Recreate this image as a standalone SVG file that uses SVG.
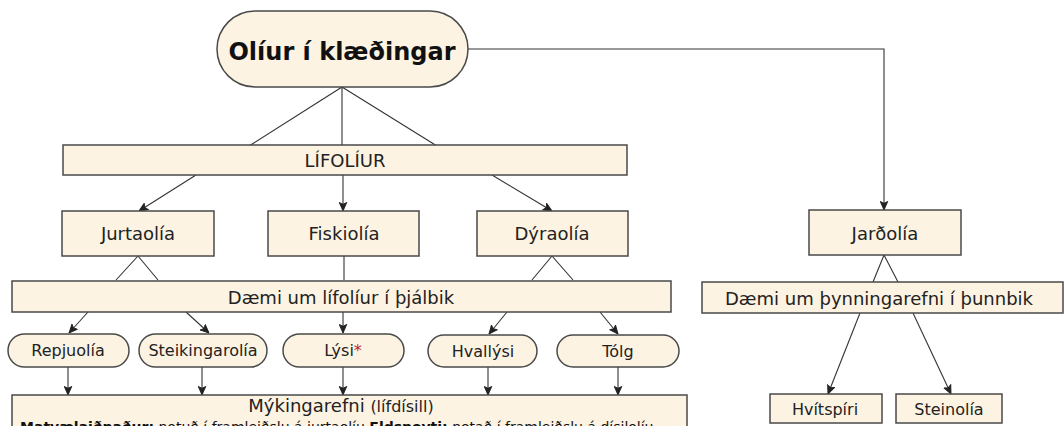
<svg xmlns="http://www.w3.org/2000/svg" width="1064" height="426" viewBox="0 0 1064 426">
  <style>
    .box { fill: #fdf3e2; stroke: #4a4a4a; stroke-width: 1.5; }
    .lbl { font-family: "DejaVu Sans", Verdana, sans-serif; font-size: 18px; fill: #222; text-anchor: middle; }
    .sm { font-size: 16px; }
    .title { font-family: "DejaVu Sans", Verdana, sans-serif; font-size: 24px; font-weight: bold; fill: #111; text-anchor: middle; }
    .wire { fill: none; stroke: #333; stroke-width: 1.1; }
    .arr { marker-end: url(#tip); }
    .note { font-family: "DejaVu Sans", Verdana, sans-serif; font-size: 14px; fill: #111; }
  </style>
  <defs>
    <marker id="tip" viewBox="0 0 10 10" refX="10" refY="5" markerWidth="9" markerHeight="9" markerUnits="userSpaceOnUse" orient="auto">
      <path d="M0.5,0.8 L10,5 L0.5,9.2 L2.5,5 z" fill="#222" stroke="#222" stroke-width="1"/>
    </marker>
  </defs>
  <rect width="1064" height="426" fill="#ffffff"/>

  <!-- connectors -->
  <g id="connectors">
    <!-- root to LÍFOLÍUR -->
    <path class="wire" d="M342,87 L249,146 M342,87 L342,146 M342,87 L437,146"/>
    <!-- root to Jarðolía -->
    <path class="wire arr" d="M468,49 L884,49 L884,210"/>
    <!-- LÍFOLÍUR to the three kinds -->
    <line class="wire arr" x1="196" y1="175" x2="139" y2="211"/>
    <line class="wire arr" x1="343" y1="175" x2="343" y2="211"/>
    <line class="wire arr" x1="492" y1="175" x2="552" y2="211"/>
    <!-- kinds to examples bar -->
    <path class="wire" d="M116,280 L138,256 L158,280"/>
    <line class="wire" x1="344" y1="256" x2="344" y2="280"/>
    <path class="wire" d="M532,280 L552,256 L573,280"/>
    <!-- examples bar to the oils -->
    <line class="wire arr" x1="88" y1="312" x2="69" y2="333"/>
    <line class="wire arr" x1="186" y1="312" x2="209" y2="333"/>
    <line class="wire arr" x1="343" y1="312" x2="343" y2="333"/>
    <line class="wire arr" x1="507" y1="312" x2="489" y2="334"/>
    <line class="wire arr" x1="600" y1="312" x2="618" y2="334"/>
    <!-- oils to Mýkingarefni -->
    <line class="wire arr" x1="68" y1="367" x2="68" y2="395"/>
    <line class="wire arr" x1="202" y1="367" x2="202" y2="395"/>
    <line class="wire arr" x1="343" y1="367" x2="343" y2="395"/>
    <line class="wire arr" x1="488" y1="367" x2="488" y2="395"/>
    <line class="wire arr" x1="618" y1="367" x2="618" y2="395"/>
    <!-- Jarðolía branch -->
    <path class="wire" d="M873,282 L884,255 L898,282"/>
    <line class="wire arr" x1="860" y1="313" x2="828" y2="394"/>
    <line class="wire arr" x1="913" y1="313" x2="951" y2="394"/>
  </g>

  <g id="root">
    <rect class="box" x="217" y="11" width="251" height="76" rx="38" ry="38"/>
    <text class="title" x="342" y="60">Olíur í klæðingar</text>
  </g>

  <g id="lifoliur">
    <rect class="box" x="63" y="145" width="564" height="30"/>
    <text class="lbl" x="345" y="167">LÍFOLÍUR</text>
  </g>

  <g id="jurtaolia">
    <rect class="box" x="62" y="211" width="152" height="45"/>
    <text class="lbl" x="138" y="240">Jurtaolía</text>
  </g>
  <g id="fiskiolia">
    <rect class="box" x="268" y="211" width="151" height="45"/>
    <text class="lbl" x="344" y="240">Fiskiolía</text>
  </g>
  <g id="dyraolia">
    <rect class="box" x="477" y="211" width="151" height="45"/>
    <text class="lbl" x="552" y="240">Dýraolía</text>
  </g>

  <g id="daemi-lifoliur">
    <rect class="box" x="12" y="281" width="659" height="31"/>
    <text class="lbl" x="341" y="304">Dæmi um lífolíur í þjálbik</text>
  </g>

  <g id="repjuolia">
    <rect class="box" x="8" y="334" width="121" height="33" rx="16.5"/>
    <text class="lbl sm" x="68" y="356">Repjuolía</text>
  </g>
  <g id="steikingarolia">
    <rect class="box" x="139" y="334" width="128" height="33" rx="16.5"/>
    <text class="lbl sm" x="203" y="356">Steikingarolía</text>
  </g>
  <g id="lysi">
    <rect class="box" x="283" y="334" width="121" height="33" rx="16.5"/>
    <text class="lbl sm" x="343" y="356">Lýsi<tspan fill="#c0282d">*</tspan></text>
  </g>
  <g id="hvallysi">
    <rect class="box" x="428" y="335" width="109" height="32" rx="16"/>
    <text class="lbl sm" x="483" y="357">Hvallýsi</text>
  </g>
  <g id="tolg">
    <rect class="box" x="557" y="335" width="122" height="32" rx="16"/>
    <text class="lbl sm" x="618" y="357">Tólg</text>
  </g>

  <g id="mykingarefni">
    <rect class="box" x="12" y="395" width="675" height="45"/>
    <text class="lbl" x="341" y="412">Mýkingarefni <tspan font-size="16">(lífdísill)</tspan></text>
    <text class="note" x="20" y="432"><tspan font-weight="bold">Matvælaiðnaður:</tspan> notuð í framleiðslu á jurtaolíu  <tspan font-weight="bold">Eldsneyti:</tspan> notað í framleiðslu á dísilolíu</text>
  </g>

  <g id="jardolia">
    <rect class="box" x="809" y="210" width="152" height="45"/>
    <text class="lbl" x="885" y="240">Jarðolía</text>
  </g>
  <g id="daemi-thynning">
    <rect class="box" x="702" y="282" width="361" height="31"/>
    <text class="lbl" x="879" y="305">Dæmi um þynningarefni í þunnbik</text>
  </g>
  <g id="hvitspiri">
    <rect class="box" x="770" y="394" width="112" height="29"/>
    <text class="lbl sm" x="825" y="415">Hvítspíri</text>
  </g>
  <g id="steinolia">
    <rect class="box" x="896" y="394" width="106" height="29"/>
    <text class="lbl sm" x="949" y="415">Steinolía</text>
  </g>
</svg>
